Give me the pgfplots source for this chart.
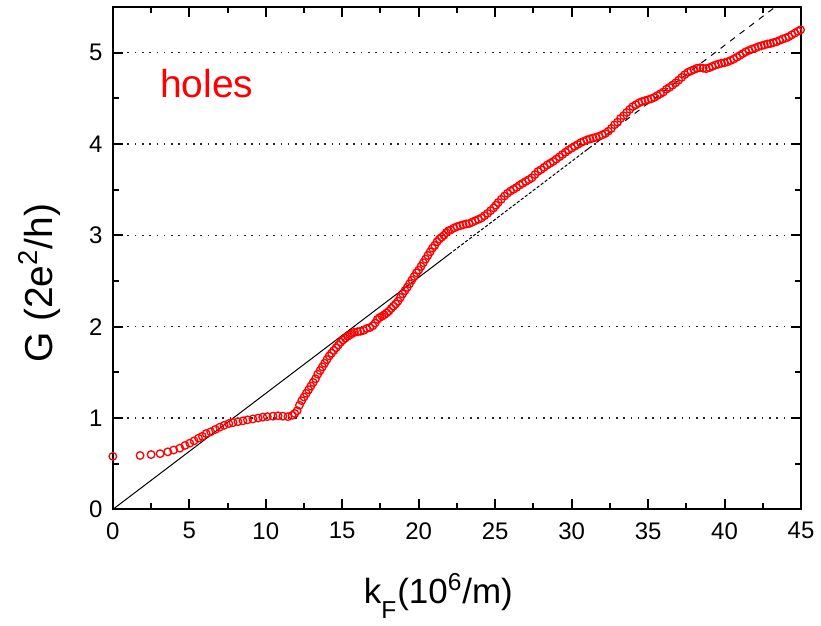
\documentclass[border=0pt]{standalone}
\usepackage{fontspec}
\setmainfont{Liberation Sans}
\usepackage{pgfplots}
\pgfplotsset{compat=1.18}

% Conductance of the hole branch versus Fermi wave vector
\pgfplotstableread{
x y
0 0.58
1.78 0.59
2.5 0.60
3.09 0.61
3.59 0.63
3.98 0.65
4.38 0.67
4.72 0.70
5.03 0.725
5.31 0.75
5.6 0.78
5.85 0.80
6.1 0.83
6.4 0.85
6.7 0.875
6.99 0.90
7.27 0.92
7.58 0.94
7.86 0.95
8.18 0.96
8.51 0.97
8.8 0.98
9.16 0.99
9.5 1.0
9.8 1.01
10.1 1.015
10.47 1.02
10.8 1.025
11.12 1.02
11.45 1.015
11.73 1.03
11.9 1.05
12.05 1.08
12.2 1.14
12.35 1.19
12.5 1.23
12.65 1.27
12.8 1.31
12.95 1.35
13.1 1.39
13.25 1.43
13.4 1.48
13.55 1.52
13.7 1.56
13.85 1.60
14.0 1.64
14.15 1.68
14.3 1.71
14.45 1.74
14.6 1.77
14.75 1.80
14.9 1.83
15.05 1.855
15.2 1.875
15.35 1.895
15.5 1.91
15.65 1.925
15.8 1.94
16.0 1.945
16.2 1.95
16.4 1.96
16.6 1.98
16.8 1.99
17.0 2.01
17.15 2.04
17.3 2.08
17.45 2.10
17.6 2.115
17.75 2.13
17.9 2.15
18.05 2.17
18.2 2.20
18.35 2.225
18.5 2.25
18.65 2.28
18.8 2.32
18.95 2.36
19.1 2.395
19.25 2.43
19.4 2.47
19.55 2.51
19.7 2.55
19.85 2.59
20.0 2.62
20.15 2.66
20.3 2.70
20.45 2.74
20.6 2.78
20.75 2.82
20.9 2.86
21.05 2.89
21.2 2.93
21.35 2.96
21.5 2.98
21.65 3.00
21.8 3.03
21.95 3.05
22.1 3.06
22.3 3.08
22.5 3.095
22.7 3.105
22.9 3.115
23.1 3.125
23.3 3.13
23.5 3.145
23.7 3.16
23.9 3.175
24.1 3.19
24.3 3.215
24.5 3.24
24.7 3.27
24.9 3.30
25.05 3.33
25.2 3.36
25.4 3.395
25.6 3.43
25.8 3.46
26.0 3.485
26.2 3.505
26.4 3.525
26.6 3.55
26.8 3.57
27.0 3.59
27.2 3.61
27.4 3.63
27.6 3.665
27.8 3.70
28.0 3.72
28.2 3.745
28.4 3.77
28.6 3.79
28.8 3.81
29.0 3.835
29.2 3.86
29.4 3.885
29.6 3.91
29.8 3.935
30.0 3.955
30.2 3.975
30.4 3.995
30.6 4.015
30.8 4.03
31.0 4.045
31.2 4.055
31.4 4.065
31.6 4.075
31.8 4.085
32.0 4.10
32.2 4.115
32.4 4.14
32.6 4.17
32.8 4.21
33.0 4.24
33.2 4.28
33.4 4.31
33.6 4.345
33.8 4.38
34.0 4.41
34.2 4.43
34.4 4.45
34.6 4.465
34.8 4.475
35.0 4.485
35.2 4.495
35.4 4.51
35.6 4.53
35.8 4.55
36.0 4.57
36.2 4.60
36.4 4.62
36.6 4.645
36.8 4.67
37.0 4.70
37.2 4.73
37.4 4.76
37.6 4.785
37.8 4.80
38.0 4.815
38.2 4.83
38.4 4.835
38.6 4.83
38.8 4.825
39.0 4.835
39.2 4.85
39.4 4.865
39.6 4.875
39.8 4.885
40.0 4.89
40.2 4.90
40.4 4.915
40.6 4.93
40.8 4.95
41.0 4.97
41.2 4.99
41.4 5.01
41.6 5.025
41.8 5.04
42.0 5.05
42.2 5.065
42.4 5.075
42.6 5.085
42.8 5.095
43.0 5.10
43.2 5.11
43.4 5.12
43.6 5.135
43.8 5.15
44.0 5.16
44.2 5.175
44.4 5.195
44.6 5.215
44.8 5.235
44.97 5.25
}\holes

\begin{document}
\begin{tikzpicture}
\begin{axis}[
  scale only axis,
  width=344.5pt, height=251.5pt,
  xmin=0, xmax=45, ymin=0, ymax=5.5,
  xtick={0,5,...,45}, ytick={0,1,...,5},
  minor x tick num=1, minor y tick num=1,
  tick align=inside,
  major tick length=5pt, minor tick length=3pt,
  axis line style={line width=1pt},
  every tick/.style={black, line width=1pt},
  ymajorgrids,
  major grid style={black!85, line width=0.8pt, dash pattern=on 0.8pt off 2.85pt},
  /pgf/number format/assume math mode=true,
  tick label style={font=\fontsize{12}{14}\selectfont},
  xticklabel style={yshift=-3pt},
  yticklabel style={xshift=-1.7pt},
  xlabel={k\raisebox{-0.55ex}{\textsubscript{F}}(10\textsuperscript{6}/m)},
  ylabel={G (2e\textsuperscript{2}/h)},
  xlabel style={font=\fontsize{17.5}{21}\selectfont, at={(axis description cs:0.473,-0.187)}, anchor=base},
  ylabel style={font=\fontsize{19.5}{23}\selectfont, at={(axis description cs:-0.107,0.45)}, anchor=center},
  clip=true,
]
% guide line G = 0.127 k_F: solid, then finely dashed, then dashed
\addplot[black, line width=0.5pt] coordinates {(0,0) (22,2.794)};
\addplot[black, line width=0.5pt, dash pattern=on 1.6pt off 0.9pt] coordinates {(22,2.794) (31,3.937)};
\addplot[black, line width=0.5pt, dash pattern=on 3pt off 3pt] coordinates {(31,3.937) (43.31,5.5)};
% measured points
\addplot[only marks, mark=o, mark size=1.9pt, color=red, mark options={line width=0.65pt}] table[x=x, y=y] {\holes};
\node[anchor=base west, inner sep=0pt, text=red, font=\fontsize{19.5}{23}\selectfont] at (axis cs:3.07,4.505) {holes};
\end{axis}
\path[use as bounding box] (-56.5pt,-55pt) rectangle (354pt,255pt);
\end{tikzpicture}
\end{document}
